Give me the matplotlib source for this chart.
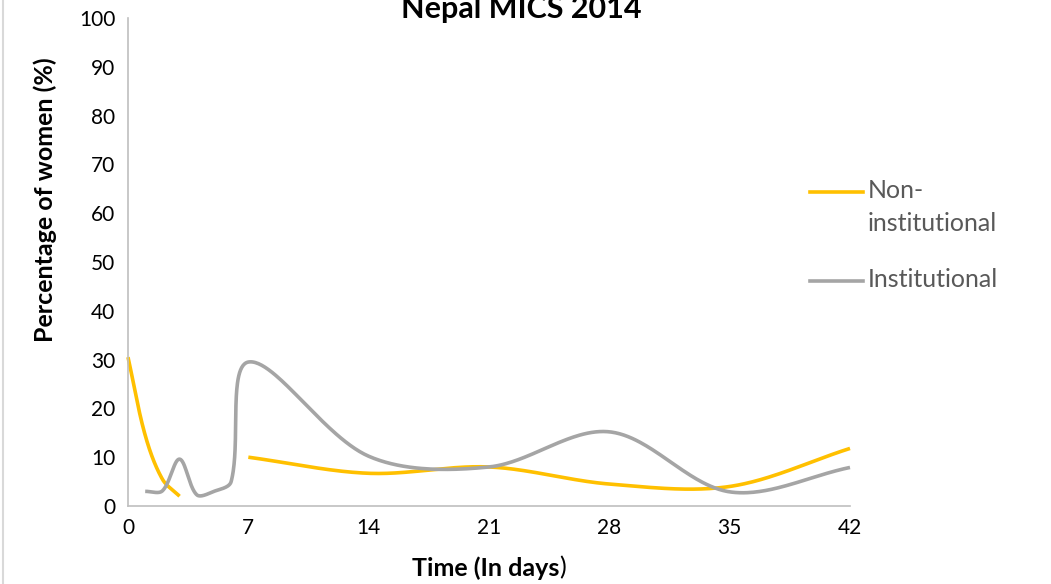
import numpy as np
import matplotlib
matplotlib.use("Agg")
import matplotlib.pyplot as plt

plt.rcParams['font.family'] = ['Lato', 'DejaVu Sans']

title = "Nepal MICS 2014"
days = [0, 1, 2, 3, 4, 5, 6, 7, 14, 21, 28, 35, 42]
non_institutional = [30.5, 14.5, 5.5, 2.0, None, None, None, 10.0, 6.7, 8.0, 4.5, 4.0, 11.8]
institutional = [None, 3.0, 3.1, 9.6, 2.3, 3.0, 5.0, 29.5, 10.2, 8.0, 15.2, 2.9, 7.9]
series_names = ["Non-\ninstitutional", "Institutional"]
colors = ["#FFC000", "#A5A5A5"]
xticks = [0, 7, 14, 21, 28, 35, 42]
yticks = list(range(0, 101, 10))

# pixel scale of the plot area, used so the smoothing looks like excel's
SX, SY = 722 / 42, 488 / 100


def smooth(xs, ys, n=60):
    # excel-style smoothed line: cubic bezier, tangents weighted by chord length
    p = np.column_stack([np.array(xs, float) * SX, np.array(ys, float) * SY])
    m = len(p)
    d = np.r_[0.0, np.hypot(*np.diff(p, axis=0).T), 0.0]  # d[i+1] = |p[i+1]-p[i]|
    out = []
    for i in range(m - 1):
        a = max(i - 1, 0)
        b = min(i + 2, m - 1)
        t1 = (p[i + 1] - p[a]) / (d[i] + d[i + 1]) if d[i] + d[i + 1] else 0
        t2 = (p[b] - p[i]) / (d[i + 1] + d[i + 2]) if d[i + 1] + d[i + 2] else 0
        c1 = p[i] + t1 * d[i + 1] / 3
        c2 = p[i + 1] - t2 * d[i + 1] / 3
        t = np.linspace(0, 1, n)[:, None]
        out.append((1-t)**3*p[i] + 3*(1-t)**2*t*c1 + 3*(1-t)*t**2*c2 + t**3*p[i+1])
    out = np.vstack(out)
    return out[:, 0] / SX, out[:, 1] / SY


def segments(xs, ys):
    segs, cur = [], []
    for x, y in zip(xs, ys):
        if y is None:
            if cur:
                segs.append(cur)
            cur = []
        else:
            cur.append((x, y))
    if cur:
        segs.append(cur)
    return segs


fig = plt.figure(figsize=(10.51, 5.84), dpi=100)
ax = fig.add_axes([128/1051, 78/584, 722/1051, 488/584])

for vals, col in zip([non_institutional, institutional], colors):
    for seg in segments(days, vals):
        sx, sy = smooth([q[0] for q in seg], [q[1] for q in seg])
        ax.plot(sx, sy, color=col, lw=2.6, solid_capstyle='butt', clip_on=False)

ax.set_xlim(0, 42)
ax.set_ylim(0, 100)
ax.set_xticks(xticks)
ax.set_yticks(yticks)
ax.tick_params(length=0, labelsize=15, pad=9)
for s in ['top', 'right']:
    ax.spines[s].set_visible(False)
for s in ['left', 'bottom']:
    ax.spines[s].set_color('#BFBFBF')
    ax.spines[s].set_linewidth(1.2)

fig.text(45/1051, 1 - 200/584, "Percentage of women (%)", fontsize=18, fontweight='bold',
         rotation=90, ha='center', va='center')
fig.text(412/1051, 1 - 568/584, "Time (In days", fontsize=18, fontweight='bold', ha='left', va='center')
fig.text(559/1051, 1 - 568/584, ")", fontsize=18, ha='left', va='center')
fig.text(521/1051, 1 - 18/584, title, fontsize=22, fontweight='bold', ha='center', va='baseline')

# legend, drawn by hand so the handle sits on the first text line
leg_y = [192, 281]
for name, col, y in zip(series_names, colors, leg_y):
    fig.add_artist(plt.Line2D([810/1051, 863/1051], [1 - y/584] * 2, color=col, lw=2.6,
                              transform=fig.transFigure))
    fig.text(868/1051, 1 - (y - 13)/584, name, fontsize=18, color='#595959', ha='left', va='top',
             linespacing=1.55)

fig.add_artist(plt.Line2D([3/1051, 3/1051], [0, 1], color='#D9D9D9', lw=1.5, transform=fig.transFigure))

fig.savefig("out.png", dpi=100)
